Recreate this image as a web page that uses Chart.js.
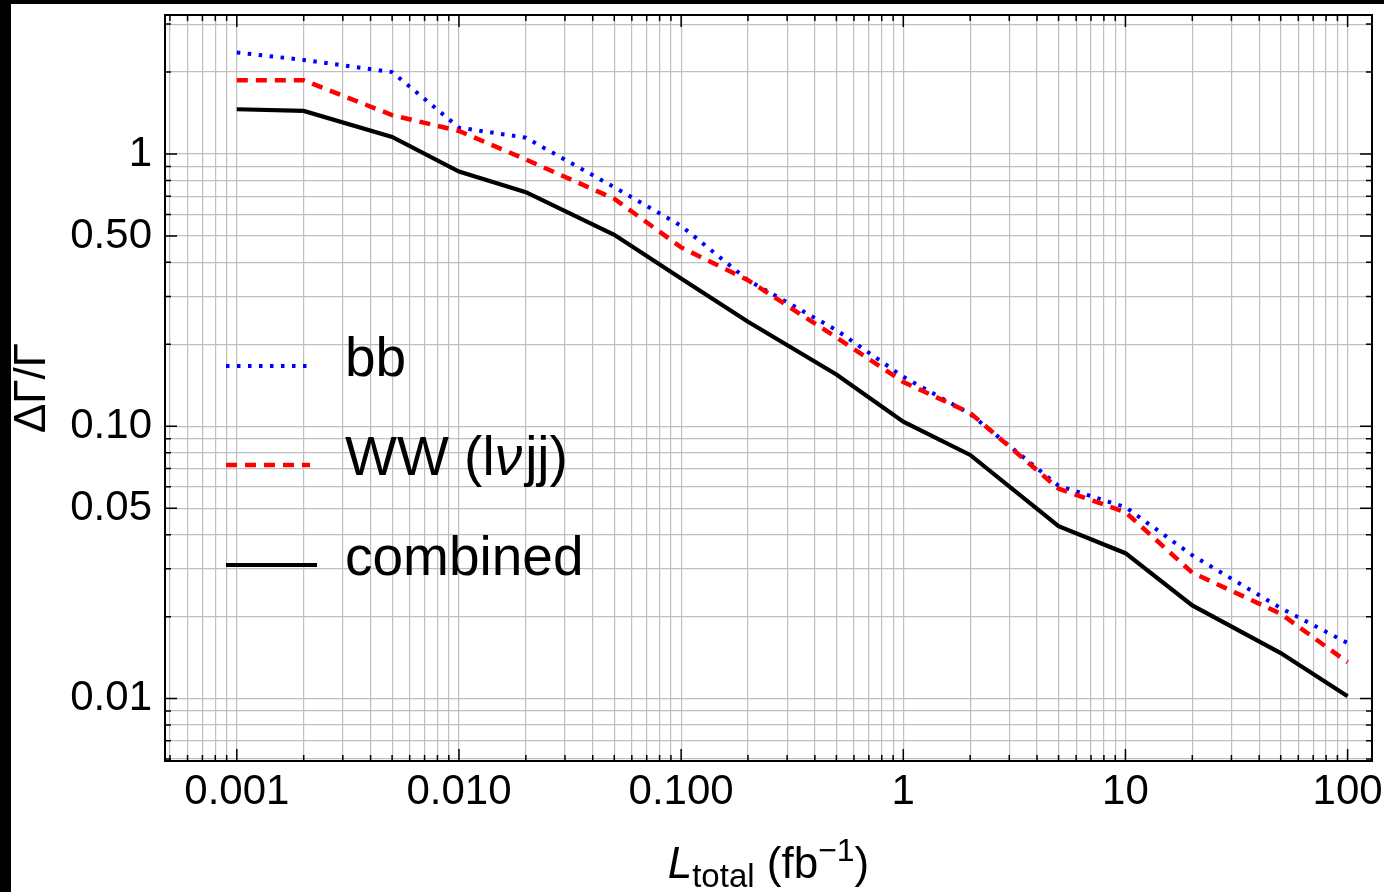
<!DOCTYPE html>
<html>
<head>
<meta charset="utf-8">
<script src="https://cdn.jsdelivr.net/npm/chart.js@4"></script>
<style>
    body { margin: 0; background: #000; }
    #wrap { position: absolute; left: 11px; top: 4px; width: 1373px; height: 888px; background: #fff; }
</style>
</head>
<body>
<div id="wrap"><canvas id="chart1"></canvas></div>
<script>
// luminosity points (fb^-1)
const lumi = [0.001, 0.002, 0.005, 0.01, 0.02, 0.05, 0.1, 0.2, 0.5, 1, 2, 5, 10, 20, 50, 100];
// relative width uncertainty per channel
const bbVals = [2.36, 2.215, 2.0, 1.25, 1.148, 0.755, 0.545, 0.344, 0.2256, 0.152, 0.111, 0.0605, 0.0505, 0.0336, 0.0215, 0.016];
const wwVals = [1.865, 1.865, 1.39, 1.215, 0.955, 0.685, 0.454, 0.344, 0.212, 0.1455, 0.112, 0.059, 0.0484, 0.029, 0.0205, 0.0136];
const combinedVals = [1.46, 1.44, 1.155, 0.862, 0.724, 0.505, 0.349, 0.242, 0.155, 0.104, 0.0785, 0.043, 0.0342, 0.022, 0.0147, 0.0102];

const xLabels = { 0.001: '0.001', 0.01: '0.010', 0.1: '0.100', 1: '1', 10: '10', 100: '100' };
const yLabels = { 1: '1', 0.5: '0.50', 0.1: '0.10', 0.05: '0.05', 0.01: '0.01' };

const FONT = "'Liberation Sans', Arial, sans-serif";
Chart.defaults.font.family = FONT;
Chart.defaults.color = '#000';

function logTicks(list) {
    // list of [mantissa, exponent]
    return list.map(([m, e]) => {
        const v = Number((m * Math.pow(10, e)).toPrecision(3));
        return { value: v };
    });
}
function decade(e, from, to) {
    const out = [];
    for (let m = from; m <= to; m++) out.push([m, e]);
    return out;
}
const xTickList = logTicks([].concat(decade(-4, 5, 9), decade(-3, 1, 9), decade(-2, 1, 9), decade(-1, 1, 9),
    decade(0, 1, 9), decade(1, 1, 9), decade(2, 1, 1)));
const yTickList = logTicks([].concat(decade(-3, 6, 9), decade(-2, 1, 9), decade(-1, 1, 9), decade(0, 1, 3)));

function toPoints(vals) {
    return lumi.map((x, i) => ({ x: x, y: vals[i] }));
}

const frameTicks = {
    id: 'frameTicks',
    afterDraw(chart) {
        const { ctx, chartArea: a, scales } = chart;
        ctx.save();
        ctx.strokeStyle = '#000';
        ctx.lineWidth = 1.5;
        ctx.beginPath();
        scales.x.ticks.forEach(t => {
            const px = scales.x.getPixelForValue(t.value);
            const len = xLabels[t.value] ? 12 : 6;
            ctx.moveTo(px, a.bottom); ctx.lineTo(px, a.bottom - len);
            ctx.moveTo(px, a.top); ctx.lineTo(px, a.top + len);
        });
        scales.y.ticks.forEach(t => {
            const py = scales.y.getPixelForValue(t.value);
            const len = yLabels[t.value] ? 12 : 6;
            ctx.moveTo(a.left, py); ctx.lineTo(a.left + len, py);
            ctx.moveTo(a.right, py); ctx.lineTo(a.right - len, py);
        });
        ctx.stroke();
        ctx.lineWidth = 2;
        ctx.strokeRect(a.left, a.top, a.right - a.left, a.bottom - a.top);

        // legend
        const items = [
            { ds: chart.data.datasets[0], y: 362, x2: 299, parts: [['bb', 'normal']] },
            { ds: chart.data.datasets[1], y: 461, x2: 299, parts: [['WW (l', 'normal'], ['ν', 'italic'], ['jj)', 'normal']] },
            { ds: chart.data.datasets[2], y: 561, x2: 306, parts: [['combined', 'normal']] }
        ];
        items.forEach(it => {
            ctx.save();
            ctx.strokeStyle = it.ds.borderColor;
            ctx.lineWidth = it.ds.borderWidth;
            ctx.setLineDash(it.ds.borderDash || []);
            ctx.beginPath();
            ctx.moveTo(215, it.y); ctx.lineTo(it.x2, it.y);
            ctx.stroke();
            ctx.restore();
            let tx = 334;
            ctx.fillStyle = '#000';
            ctx.textBaseline = 'alphabetic';
            ctx.textAlign = 'left';
            it.parts.forEach(([s, st]) => {
                ctx.font = st + ' 55px ' + FONT;
                ctx.fillText(s, tx, it.y + 10);
                tx += ctx.measureText(s).width + (st === 'italic' ? 3 : 0);
            });
        });

        // y axis title
        ctx.save();
        ctx.translate(34, (a.top + a.bottom) / 2);
        ctx.rotate(-Math.PI / 2);
        ctx.font = '44px ' + FONT;
        ctx.textAlign = 'center';
        ctx.textBaseline = 'alphabetic';
        ctx.fillText('ΔΓ/Γ', 0, 0);
        ctx.restore();

        // x axis title
        const parts = [
            ['L', 'italic 44px ', 0],
            ['total', '33px ', 9],
            [' (fb', '44px ', 0],
            ['\u22121', '32px ', -17],
            [')', '44px ', 0]
        ];
        let total = 0;
        parts.forEach(p => { ctx.font = p[1] + FONT; total += ctx.measureText(p[0]).width; });
        let x = (a.left + a.right) / 2 - total / 2;
        const base = 874;
        ctx.textAlign = 'left';
        ctx.textBaseline = 'alphabetic';
        parts.forEach(p => {
            ctx.font = p[1] + FONT;
            ctx.fillText(p[0], x, base + p[2]);
            x += ctx.measureText(p[0]).width;
        });
        ctx.restore();
    }
};

let grafica;
function crearGrafica() {
    const ctx = document.getElementById('chart1');
    const config = {
        type: 'line',
        data: {
            datasets: [{
                label: 'bb',
                data: toPoints(bbVals),
                borderColor: '#0000ff',
                borderWidth: 4,
                borderDash: [3.5, 7.5],
                order: 3
            }, {
                label: 'WW (lνjj)',
                data: toPoints(wwVals),
                borderColor: '#ff0000',
                borderWidth: 4.5,
                borderDash: [11, 8],
                order: 2
            }, {
                label: 'combined',
                data: toPoints(combinedVals),
                borderColor: '#000000',
                borderWidth: 4.2,
                order: 1
            }]
        },
        options: {
            responsive: true,
            maintainAspectRatio: false,
            animation: false,
            layout: { padding: { top: 11, right: 12, left: 0, bottom: 0 } },
            elements: { point: { radius: 0 }, line: { tension: 0, fill: false } },
            plugins: {
                legend: { display: false },
                tooltip: { enabled: false }
            },
            scales: {
                x: {
                    type: 'logarithmic',
                    min: 0.000475,
                    max: 128.8,
                    bounds: 'data',
                    afterBuildTicks: (scale) => { scale.ticks = xTickList.map(t => ({ value: t.value })); },
                    afterFit: (scale) => {
                        scale.height = 131;
                        scale.paddingLeft = 0; scale.paddingRight = 0;
                        scale.paddingTop = 0; scale.paddingBottom = 0;
                    },
                    grid: { color: '#bfbfbf', lineWidth: 1.2, drawTicks: false },
                    border: { display: false },
                    ticks: {
                        autoSkip: false,
                        maxRotation: 0,
                        padding: 6,
                        font: { size: 42 },
                        callback: (v) => xLabels[v] || ''
                    }
                },
                y: {
                    type: 'logarithmic',
                    min: 0.0059,
                    max: 3.24,
                    bounds: 'data',
                    afterBuildTicks: (scale) => { scale.ticks = yTickList.map(t => ({ value: t.value })); },
                    afterFit: (scale) => {
                        scale.width = 154;
                        scale.paddingLeft = 0; scale.paddingRight = 0;
                        scale.paddingTop = 0; scale.paddingBottom = 0;
                    },
                    grid: { color: '#bfbfbf', lineWidth: 1.2, drawTicks: false },
                    border: { display: false },
                    ticks: {
                        autoSkip: false,
                        padding: 13,
                        font: { size: 42 },
                        callback: (v) => yLabels[v] || ''
                    }
                }
            }
        },
        plugins: [frameTicks]
    };
    if (grafica instanceof Chart) {
        grafica.destroy();
    }
    grafica = new Chart(ctx, config);
}
crearGrafica();
</script>
</body>
</html>
